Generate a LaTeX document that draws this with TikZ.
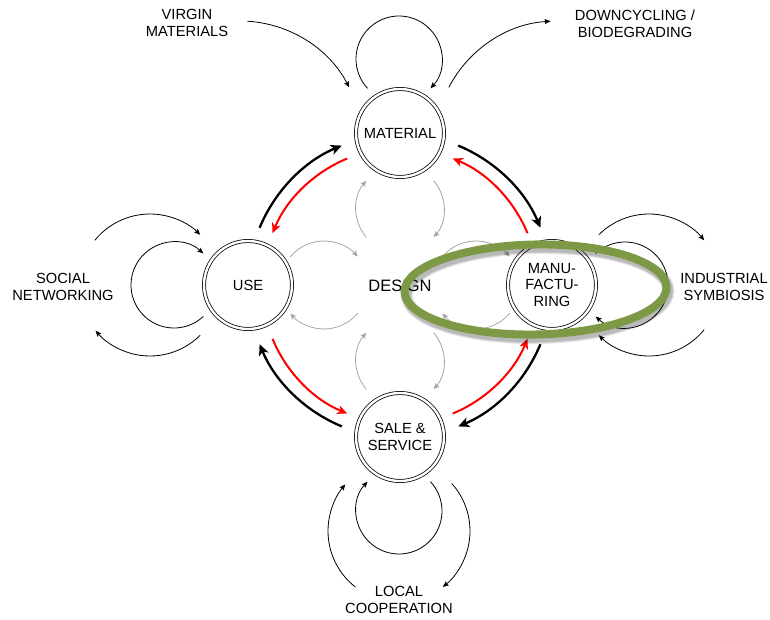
\documentclass[tikz,border=0pt]{standalone}
\usepackage{fontspec}
\setmainfont{Liberation Sans}
\usetikzlibrary{arrows.meta}
\definecolor{loopgreen}{RGB}{126,153,70}
\definecolor{softgray}{RGB}{165,165,165}
\definecolor{flowred}{RGB}{255,0,0}

\begin{document}
\begin{tikzpicture}[x=1pt,y=1pt,
  every node/.style={font=\fontsize{14.7}{16.8}\selectfont, align=center, inner sep=0pt},
  stage/.style={circle, draw, double, double distance=2.4pt, line width=0.75pt, minimum size=88pt},
  cwring/.style={line width=2.3pt, -{Stealth[length=11pt,width=10pt,inset=3pt]}},
  ccwring/.style={flowred, line width=2pt, -{Stealth[length=10pt,width=9pt,inset=3pt]}},
  flow/.style={line width=0.8pt, -{Stealth[length=6pt,width=5pt,inset=1pt]}},
  designflow/.style={softgray, line width=0.8pt, -{Stealth[length=6pt,width=5pt,inset=1pt]}},
  shadowring/.style={black, opacity=0.10},
]
\useasboundingbox (0,0) rectangle (770,619);

% hub and the four life-cycle stages
\node[font=\fontsize{16.5}{19}\selectfont] (design) at (400,333) {DESIGN};
\node[stage] (mat)  at (400,486) {MATERIAL};
\node[stage] (use)  at (248,334) {USE};
\node[stage] (manu) at (552,334) {MANU-\\FACTU-\\RING};
\node[stage] (sale) at (400,182) {SALE \&\\SERVICE};

% outer labels
\node (virgin)  at (187,596) {VIRGIN\\MATERIALS};
\node (down)    at (635,595) {DOWNCYCLING /\\BIODEGRADING};
\node (social)  at (63,332)  {SOCIAL\\NETWORKING};
\node (indus)   at (724,332) {INDUSTRIAL\\SYMBIOSIS};
\node (local)   at (399,19)  {LOCAL\\COOPERATION};

% centres of the small design loops (midway between hub and stage)
\coordinate (dM) at (400,410);
\coordinate (dS) at (400,258);
\coordinate (dU) at (324,334);
\coordinate (dF) at (476,334);

\draw[designflow] ([shift={(220:44pt)}]dM) arc[start angle=220, end angle=140, radius=44pt];
\draw[designflow] ([shift={(40:44pt)}]dM)  arc[start angle=40,  end angle=-40, radius=44pt];
\draw[designflow] ([shift={(220:44pt)}]dS) arc[start angle=220, end angle=140, radius=44pt];
\draw[designflow] ([shift={(40:44pt)}]dS)  arc[start angle=40,  end angle=-40, radius=44pt];
\draw[designflow] ([shift={(140:44pt)}]dU) arc[start angle=140, end angle=40, radius=44pt];
\draw[designflow] ([shift={(-40:44pt)}]dU) arc[start angle=-40, end angle=-140, radius=44pt];
\draw[designflow] ([shift={(140:44pt)}]dF) arc[start angle=140, end angle=40, radius=44pt];
\draw[designflow] ([shift={(-40:44pt)}]dF) arc[start angle=-40, end angle=-140, radius=44pt];

% self loops of each stage
\coordinate (loopM) at (399,560);
\coordinate (loopU) at (174,334);
\coordinate (loopF) at (625,334);
\coordinate (loopS) at (399,108);
\draw[flow] ([shift={(223:43pt)}]loopM) arc[start angle=223, end angle=-43, radius=43pt];
\draw[flow] ([shift={(-47:43pt)}]loopU) arc[start angle=-47, end angle=-313, radius=43pt];
\draw[flow] ([shift={(133:43pt)}]loopF) arc[start angle=133, end angle=-133, radius=43pt];
\draw[flow] ([shift={(43:43pt)}]loopS)  arc[start angle=43, end angle=-223, radius=43pt];

% exchanges with the surroundings
\coordinate (virginC) at (240,475);
\coordinate (downC)   at (558,475);
\coordinate (socialC) at (150,334);
\coordinate (indusC)  at (649,334);
\coordinate (localC)  at (399,88);
\draw[flow] ([shift={(86.6:123pt)}]virginC) arc[start angle=86.6, end angle=27.4, radius=123pt];
\draw[flow] ([shift={(152.6:123pt)}]downC)  arc[start angle=152.6, end angle=93.4, radius=123pt];
\draw[flow] ([shift={(141:71pt)}]socialC) arc[start angle=141, end angle=45, radius=71pt];
\draw[flow] ([shift={(-45:71pt)}]socialC) arc[start angle=-45, end angle=-140, radius=71pt];
\draw[flow] ([shift={(135:71pt)}]indusC)  arc[start angle=135, end angle=39, radius=71pt];
\draw[flow] ([shift={(-39:71pt)}]indusC)  arc[start angle=-39, end angle=-135, radius=71pt];
\draw[flow] ([shift={(232:71pt)}]localC)  arc[start angle=232, end angle=139, radius=71pt];
\draw[flow] ([shift={(42:71pt)}]localC)   arc[start angle=42, end angle=-52, radius=71pt];

% clockwise ring (black) and counter-clockwise ring (red) around the hub
\draw[cwring] ([shift={(157.5:152pt)}]design) arc[start angle=157.5, end angle=112.5, radius=152pt];
\draw[cwring] ([shift={(67.5:152pt)}]design)  arc[start angle=67.5,  end angle=22.5,  radius=152pt];
\draw[cwring] ([shift={(-22.5:152pt)}]design) arc[start angle=-22.5, end angle=-67.5, radius=152pt];
\draw[cwring] ([shift={(-112.5:152pt)}]design) arc[start angle=-112.5, end angle=-157.5, radius=152pt];
\draw[ccwring] ([shift={(112.5:138pt)}]design) arc[start angle=112.5, end angle=157.5, radius=138pt];
\draw[ccwring] ([shift={(202.5:138pt)}]design) arc[start angle=202.5, end angle=247.5, radius=138pt];
\draw[ccwring] ([shift={(292.5:138pt)}]design) arc[start angle=292.5, end angle=337.5, radius=138pt];
\draw[ccwring] ([shift={(22.5:138pt)}]design)  arc[start angle=22.5,  end angle=67.5,  radius=138pt];

% highlight of the design-manufacturing link
\coordinate (focus) at (535.5,329.5);
\foreach \w in {12,10,8.5}
  \draw[shadowring, line width=\w pt] ([shift={(2,-3.5)}]focus) ellipse[x radius=131, y radius=45, rotate=1];
\draw[loopgreen, line width=8pt] (focus) ellipse[x radius=131, y radius=45, rotate=1];
\end{tikzpicture}
\end{document}
